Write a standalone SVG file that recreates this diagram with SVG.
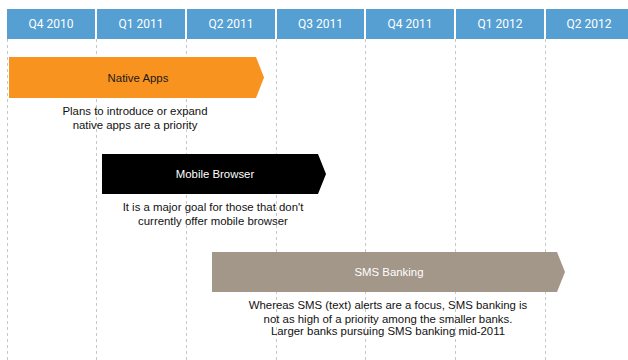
<svg xmlns="http://www.w3.org/2000/svg" width="628" height="360" viewBox="0 0 628 360">
  <style>
    .hdr { fill: #559FD3; }
    .hdr-t { font-family: Roboto, "Liberation Sans", Arial, sans-serif; font-size: 12px; fill: #ffffff; text-anchor: middle; dominant-baseline: central; }
    .grid { stroke: #c8c8c8; stroke-width: 1; stroke-dasharray: 3 3; fill: none; }
    .bar-t { font-family: "Liberation Sans", Arial, sans-serif; font-size: 11.4px; text-anchor: middle; dominant-baseline: central; }
    .desc { font-family: "Liberation Sans", Arial, sans-serif; font-size: 11.4px; fill: #111111; text-anchor: middle; dominant-baseline: central; }
  </style>
  <rect width="628" height="360" fill="#ffffff"/>

  <!-- quarter grid lines -->
  <g id="grid">
    <line class="grid" x1="7.5" y1="39" x2="7.5" y2="360"/>
    <line class="grid" x1="96.5" y1="39" x2="96.5" y2="360"/>
    <line class="grid" x1="186.5" y1="39" x2="186.5" y2="360"/>
    <line class="grid" x1="276.5" y1="39" x2="276.5" y2="360"/>
    <line class="grid" x1="365.5" y1="39" x2="365.5" y2="360"/>
    <line class="grid" x1="455.5" y1="39" x2="455.5" y2="360"/>
    <line class="grid" x1="545.5" y1="39" x2="545.5" y2="360"/>
  </g>

  <!-- quarter header -->
  <g id="header">
    <rect class="hdr" x="7" y="9" width="88" height="30"/>
    <rect class="hdr" x="97" y="9" width="88" height="30"/>
    <rect class="hdr" x="187" y="9" width="88" height="30"/>
    <rect class="hdr" x="277" y="9" width="87" height="30"/>
    <rect class="hdr" x="366" y="9" width="88" height="30"/>
    <rect class="hdr" x="456" y="9" width="88" height="30"/>
    <rect class="hdr" x="546" y="9" width="82" height="30"/>
    <text class="hdr-t" x="51" y="24">Q4 2010</text>
    <text class="hdr-t" x="141" y="24">Q1 2011</text>
    <text class="hdr-t" x="231" y="24">Q2 2011</text>
    <text class="hdr-t" x="320.5" y="24">Q3 2011</text>
    <text class="hdr-t" x="410" y="24">Q4 2011</text>
    <text class="hdr-t" x="500" y="24">Q1 2012</text>
    <text class="hdr-t" x="589" y="24">Q2 2012</text>
  </g>

  <g id="native-apps">
    <polygon points="9,57 256,57 264,77.5 256,98 9,98" fill="#F7931E"/>
    <text class="bar-t" x="138" y="78" fill="#1a1a1a">Native Apps</text>
    <text class="desc" x="135" y="111">Plans to introduce or expand</text>
    <text class="desc" x="135" y="124.5">native apps are a priority</text>
  </g>

  <g id="mobile-browser">
    <polygon points="102,154 318,154 326,174 318,194 102,194" fill="#000000"/>
    <text class="bar-t" x="215" y="174" fill="#ffffff">Mobile Browser</text>
    <text class="desc" x="213" y="207">It is a major goal for those that don't</text>
    <text class="desc" x="213" y="221">currently offer mobile browser</text>
  </g>

  <g id="sms-banking">
    <polygon points="212,252 557,252 565,272 557,292 212,292" fill="#A3978A"/>
    <text class="bar-t" x="389" y="272" fill="#ffffff">SMS Banking</text>
    <text class="desc" x="388" y="305">Whereas SMS (text) alerts are a focus, SMS banking is</text>
    <text class="desc" x="388" y="318.5">not as high of a priority among the smaller banks.</text>
    <text class="desc" x="388" y="331">Larger banks pursuing SMS banking mid-2011</text>
  </g>
</svg>
